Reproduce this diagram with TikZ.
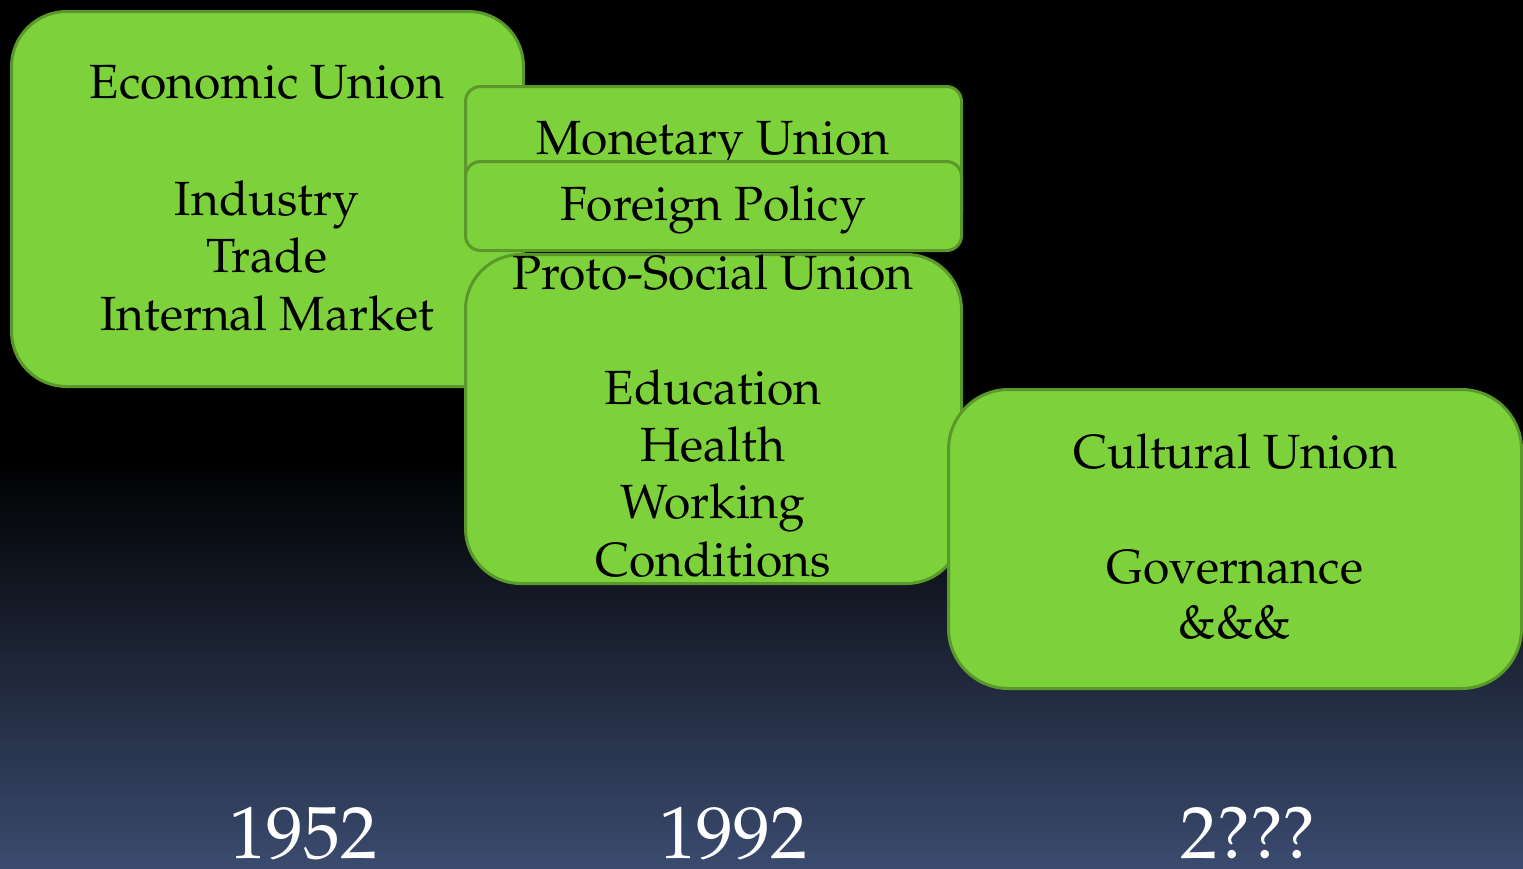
\documentclass[tikz,border=0pt]{standalone}
\usepackage[T1]{fontenc}
\usepackage{mathpazo}
\definecolor{boxfill}{HTML}{7DD13B}
\definecolor{boxline}{HTML}{5A982B}
\definecolor{bgblue}{HTML}{3B4B6F}
\tikzset{
  box/.style={draw=boxline, fill=boxfill, line width=3pt, inner sep=0pt, outer sep=0pt},
  lbl/.style={anchor=base, inner sep=0pt, text=black, font=\fontsize{48}{58}\selectfont},
  year/.style={anchor=base, inner sep=0pt, text=white, font=\fontsize{74}{80}\selectfont}
}
\begin{document}
\begin{tikzpicture}[x=1pt,y=-1pt]
\useasboundingbox (0,0) rectangle (1523,868);
\fill[black] (0,0) rectangle (1523,868);
\shade[top color=black, bottom color=bgblue] (0,460) rectangle (1523,868.5);

% Economic Union
\node[box, rounded corners=55pt, minimum width=512pt, minimum height=375pt] (eco) at (267.5,199) {};
\node[lbl] (eco1) at (267,98) {Economic Union};
\node[lbl] (eco2) at (267,215) {Industry};
\node[lbl] (eco3) at (267,272) {Trade};
\node[lbl] (eco4) at (267,330) {Internal Market};

% Proto-Social Union
\node[box, rounded corners=55pt, minimum width=496pt, minimum height=329pt] (proto) at (713.5,419) {};
\node[lbl] (pro1) at (713,289) {Proto-Social Union};
\node[lbl] (pro2) at (713,404) {Education};
\node[lbl] (pro3) at (713,461) {Health};
\node[lbl] (pro4) at (713,518) {Working};
\node[lbl] (pro5) at (713,576) {Conditions};

% Monetary Union
\node[box, rounded corners=15pt, minimum width=496pt, minimum height=140pt] (mon) at (713.5,156.5) {};
\node[lbl] (mon1) at (713,154) {Monetary Union};

% Foreign Policy
\node[box, rounded corners=15pt, minimum width=496pt, minimum height=89pt] (for) at (713.5,206) {};
\node[lbl] (for1) at (713,220) {Foreign Policy};

% Cultural Union
\node[box, rounded corners=60pt, minimum width=573pt, minimum height=299pt] (cult) at (1235,539) {};
\node[lbl] (cul1) at (1235,468) {Cultural Union};
\node[lbl] (cul2) at (1235,583) {Governance};
\node[lbl] (cul3) at (1235,638) {\&\&\&};

% Years
\node[year] (y1) at (303,858) {1952};
\node[year] (y2) at (733,858) {1992};
\node[year] (y3) at (1248,858) {2???};
\end{tikzpicture}
\end{document}
